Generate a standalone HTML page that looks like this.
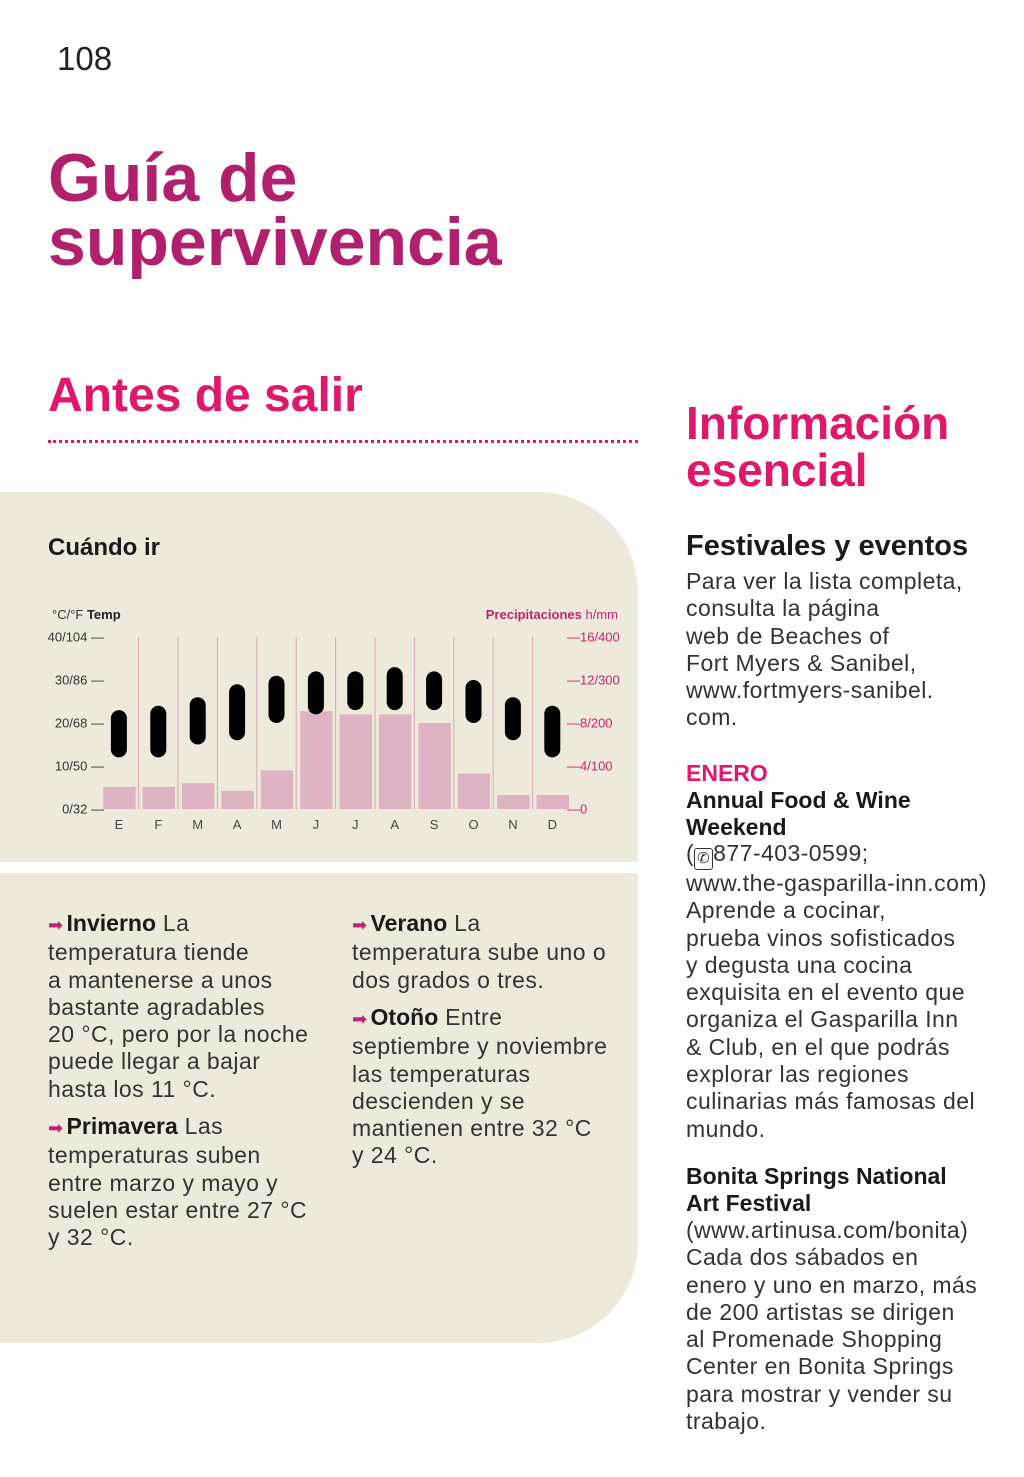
<!DOCTYPE html>
<html><head><meta charset="utf-8">
<style>
*{margin:0;padding:0;box-sizing:border-box}
body{width:1024px;height:1477px;background:#fff;position:relative;overflow:hidden;font-family:"Liberation Sans",sans-serif;color:#222}
.a{position:absolute;white-space:nowrap}
.body{font-size:23px;line-height:27.3px;letter-spacing:0.45px;color:#333}
.body b{color:#1a1a1a;letter-spacing:0}
.arr{color:#c0246e;font-size:18px;margin-right:3px}
.ph{display:inline-block;border:1.5px solid #333;border-radius:3px;font-size:15px;line-height:18px;height:22px;padding:1px 2px;vertical-align:-2px}
</style></head><body>
<div class="a" style="left:57px;top:40px;font-size:33px;color:#222">108</div>
<div class="a" style="left:48px;top:146px;font-size:68px;line-height:64px;font-weight:bold;color:#b0206b">Guía de<br>supervivencia</div>
<div class="a" style="left:48px;top:368px;font-size:48px;font-weight:bold;color:#e0186c">Antes de salir</div>
<div class="a" style="left:48px;top:440px;width:590px;border-top:3px dotted #e0186c"></div>
<div class="a" style="left:0;top:492px;width:638px;height:370px;background:#eeeadb;border-top-right-radius:100px"></div>
<div class="a" style="left:0;top:873px;width:638px;height:470px;background:#eeeadb;border-bottom-right-radius:100px"></div>
<div class="a" style="left:48px;top:534px;font-size:24px;font-weight:bold;color:#1a1a1a">Cuándo ir</div>
<svg id="chart" class="a" style="left:0;top:590px" width="640" height="250"></svg>

<div class="a body" style="left:48px;top:910px"><span class="arr">➡</span><b>Invierno</b> La<br>temperatura tiende<br>a mantenerse a unos<br>bastante agradables<br>20 °C, pero por la noche<br>puede llegar a bajar<br>hasta los 11 °C.</div>
<div class="a body" style="left:48px;top:1113px"><span class="arr">➡</span><b>Primavera</b> Las<br>temperaturas suben<br>entre marzo y mayo y<br>suelen estar entre 27 °C<br>y 32 °C.</div>
<div class="a body" style="left:352px;top:910px"><span class="arr">➡</span><b>Verano</b> La<br>temperatura sube uno o<br>dos grados o tres.</div>
<div class="a body" style="left:352px;top:1004px"><span class="arr">➡</span><b>Otoño</b> Entre<br>septiembre y noviembre<br>las temperaturas<br>descienden y se<br>mantienen entre 32 °C<br>y 24 °C.</div>

<div class="a" style="left:686px;top:400px;font-size:46px;line-height:47px;font-weight:bold;color:#e0186c">Información<br>esencial</div>
<div class="a" style="left:686px;top:530px;font-size:29px;font-weight:bold;color:#1a1a1a">Festivales y eventos</div>
<div class="a body" style="left:686px;top:568px">Para ver la lista completa,<br>consulta la página<br>web de Beaches of<br>Fort Myers &amp; Sanibel,<br>www.fortmyers-sanibel.<br>com.</div>
<div class="a" style="left:686px;top:760px;font-size:23px;font-weight:bold;color:#e0186c">ENERO</div>
<div class="a" style="left:686px;top:787px;font-size:23px;line-height:26.5px;font-weight:bold;color:#1a1a1a">Annual Food &amp; Wine<br>Weekend</div>
<div class="a body" style="left:686px;top:840px">(<span class="ph">✆</span>877-403-0599;<br>www.the-gasparilla-inn.com)<br>Aprende a cocinar,<br>prueba vinos sofisticados<br>y degusta una cocina<br>exquisita en el evento que<br>organiza el Gasparilla Inn<br>&amp; Club, en el que podrás<br>explorar las regiones<br>culinarias más famosas del<br>mundo.</div>
<div class="a" style="left:686px;top:1163px;font-size:23px;line-height:26.5px;font-weight:bold;color:#1a1a1a">Bonita Springs National<br>Art Festival</div>
<div class="a body" style="left:686px;top:1217px">(www.artinusa.com/bonita)<br>Cada dos sábados en<br>enero y uno en marzo, más<br>de 200 artistas se dirigen<br>al Promenade Shopping<br>Center en Bonita Springs<br>para mostrar y vender su<br>trabajo.</div>

<script>
const months=["E","F","M","A","M","J","J","A","S","O","N","D"];
const tempHigh=[23,24,26,29,31,32,32,33,32,30,26,24];
const tempLow=[12,12,15,16,20,22,23,23,23,20,16,12];
const rainIn=[2.05,2.05,2.4,1.7,3.6,9.1,8.8,8.8,8.0,3.3,1.3,1.3];
const tempTicks=["0/32","10/50","20/68","30/86","40/104"];
const rainTicks=["0","4/100","8/200","12/300","16/400"];
const svg=document.getElementById('chart');
const NS='http://www.w3.org/2000/svg';
const oy=590;
const X0=99.2,CW=39.4;
const yT=t=>809-oy-t*4.3;
const yR=r=>809-oy-r*10.75;
const xc=i=>X0+CW*i+CW/2;
function mk(tag,at,txt){const e=document.createElementNS(NS,tag);for(const k in at)e.setAttribute(k,at[k]);if(txt!=null)e.textContent=txt;svg.appendChild(e);return e;}
let e;
e=mk('text',{x:52,y:29,'font-size':13,fill:'#333'});e.innerHTML='°C/°F <tspan font-weight="bold" fill="#222">Temp</tspan>';


e=mk('text',{x:618,y:29,'font-size':13,fill:'#c0246e','text-anchor':'end'});e.innerHTML='<tspan font-weight="bold">Precipitaciones</tspan> h/mm';


for(let i=1;i<12;i++){e=mk('line',{x1:X0+CW*i,x2:X0+CW*i,y1:yT(40),y2:yT(0),stroke:'#d8a5b8','stroke-width':1});

}
rainIn.forEach((r,i)=>{e=mk('rect',{x:X0+CW*i+4,y:yR(r),width:CW-7,height:yR(0)-yR(r),fill:'#ddb3c4'});

});
tempHigh.forEach((h,i)=>{e=mk('rect',{x:xc(i)-8,y:yT(h),width:16,height:yT(tempLow[i])-yT(h),rx:8,fill:'#000'});

});
tempTicks.forEach((t,i)=>{e=mk('text',{x:104,y:yT(i*10)+4.5,'font-size':13,fill:'#333','text-anchor':'end'},t+' —');

});
rainTicks.forEach((t,i)=>{e=mk('text',{x:567,y:yR(i*4)+4.5,'font-size':13,fill:'#c0246e'},'—'+t);

});
months.forEach((m,i)=>{e=mk('text',{x:xc(i),y:239,'font-size':13,fill:'#444','text-anchor':'middle'},m);

});
</script>
</body></html>
